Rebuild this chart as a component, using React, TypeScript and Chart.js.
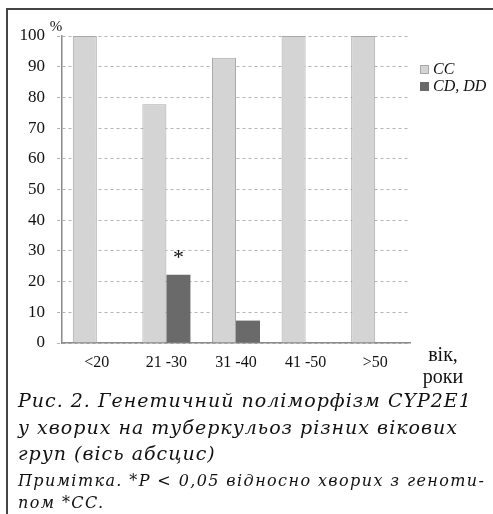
import React, { useEffect, useRef } from "react";
import { Chart, registerables } from "chart.js";

Chart.register(...registerables);

const categories = ["<20", "21 -30", "31 -40", "41 -50", ">50"];
const ccValues = [100, 77.8, 92.9, 100, 100];
const cdddValues = [0, 22.2, 7.3, 0, 0];
const yTicks = [0, 10, 20, 30, 40, 50, 60, 70, 80, 90, 100];
const seriesNames = ["CC", "CD, DD"];
const starIndex = 1;

const SERIF = "'Liberation Serif', 'Times New Roman', serif";
const CC_FILL = "#d4d4d4";
const CC_BORDER = "#a8a8a8";
const CD_FILL = "#6a6a6a";

const overlayPlugin = {
  id: "overlay",
  afterDraw(chart: any) {
    const ctx = chart.ctx;
    const a = chart.chartArea;
    ctx.save();
    ctx.fillStyle = "#111";
    // percent sign
    ctx.font = `15px ${SERIF}`;
    ctx.textAlign = "center";
    ctx.textBaseline = "alphabetic";
    ctx.fillText("%", a.left - 6, a.top - 5);
    // star above CD bar
    const bar = chart.getDatasetMeta(1).data[starIndex];
    if (bar) {
      ctx.font = `22px ${SERIF}`;
      ctx.fillText("*", bar.x, bar.y - 11);
    }
    // legend
    const colors = [
      [CC_FILL, CC_BORDER],
      [CD_FILL, CD_FILL],
    ];
    seriesNames.forEach((name, i) => {
      const y = a.top + 29 + i * 17;
      ctx.fillStyle = colors[i][0];
      ctx.fillRect(a.right + 10.5, y + 0.5, 8, 8);
      ctx.strokeStyle = colors[i][1];
      ctx.lineWidth = 1;
      ctx.strokeRect(a.right + 10.5, y + 0.5, 8, 8);
      ctx.fillStyle = "#111";
      ctx.font = `italic 16px ${SERIF}`;
      ctx.textAlign = "left";
      ctx.fillText(name, a.right + 23, y + 9);
    });
    // axis name
    ctx.font = `20px ${SERIF}`;
    ctx.textAlign = "center";
    ctx.fillText("вік,", a.right + 33, a.bottom + 18);
    ctx.fillText("роки", a.right + 33, a.bottom + 40);
    ctx.restore();
  },
};

export default function App() {
  const ref = useRef<HTMLCanvasElement>(null);
  useEffect(() => {
    if (!ref.current) return;
    const chart = new Chart(ref.current, {
      type: "bar",
      data: {
        labels: categories,
        datasets: [
          {
            label: seriesNames[0],
            data: ccValues,
            backgroundColor: CC_FILL,
            borderColor: CC_BORDER,
            borderWidth: 1,
            categoryPercentage: 0.69,
            barPercentage: 1,
          },
          {
            label: seriesNames[1],
            data: cdddValues,
            backgroundColor: CD_FILL,
            borderColor: CD_FILL,
            borderWidth: 0,
            categoryPercentage: 0.69,
            barPercentage: 1,
          },
        ],
      },
      options: {
        animation: false,
        responsive: false,
        maintainAspectRatio: false,
        layout: { padding: { left: 0, right: 83, top: 36, bottom: 0 } },
        plugins: {
          legend: { display: false },
          tooltip: { enabled: false },
          title: { display: false },
        },
        scales: {
          x: {
            grid: { display: false, drawTicks: false },
            border: { display: true, color: "#8a8a8a", width: 1.5 },
            ticks: {
              padding: 10,
              color: "#111",
              font: { family: SERIF, size: 16 },
              maxRotation: 0,
              autoSkip: false,
            },
            afterFit: (s: any) => {
              s.height = 49;
            },
          },
          y: {
            min: 0,
            max: 100,
            afterBuildTicks: (s: any) => {
              s.ticks = yTicks.map((v) => ({ value: v }));
            },
            grid: {
              color: "#b4b4b4",
              lineWidth: 1,
              tickLength: 5,
              tickColor: "#b4b4b4",
              tickBorderDash: [3, 3],
            },
            border: { display: true, color: "#8a8a8a", width: 1.5, dash: [3, 3] },
            ticks: {
              padding: 12,
              color: "#111",
              font: { family: SERIF, size: 17 },
            },
            afterFit: (s: any) => {
              s.width = 62;
            },
          },
        },
      },
      plugins: [overlayPlugin],
    } as any);
    return () => chart.destroy();
  }, []);

  const captionStyle: React.CSSProperties = {
    position: "absolute",
    left: 18,
    margin: 0,
    fontFamily: "'DejaVu Serif'",
    fontStyle: "italic",
    color: "#111",
    whiteSpace: "nowrap",
  };

  return (
    <div style={{ position: "absolute", left: 0, top: 0, width: 493, height: 514, overflow: "hidden", background: "#fff" }}>
      <div
        style={{
          position: "absolute",
          left: 6,
          top: 8,
          width: 487,
          height: 506,
          borderLeft: "2px solid #444",
          borderTop: "2px solid #444",
          boxSizing: "border-box",
        }}
      />
      <canvas ref={ref} width={493} height={392} style={{ position: "absolute", left: 0, top: 0 }} />
      <div style={{ ...captionStyle, top: 387, fontSize: 19, lineHeight: "26.5px", letterSpacing: "1px" }}>
        Рис. 2. Генетичний поліморфізм CYP2E1
        <br />
        у хворих на туберкульоз різних вікових
        <br />
        груп (вісь абсцис)
      </div>
      <div style={{ ...captionStyle, top: 470, fontSize: 16, lineHeight: "22px", letterSpacing: "1.4px" }}>
        Примітка. *P &lt; 0,05 відносно хворих з геноти-
        <br />
        пом *CC.
      </div>
    </div>
  );
}
